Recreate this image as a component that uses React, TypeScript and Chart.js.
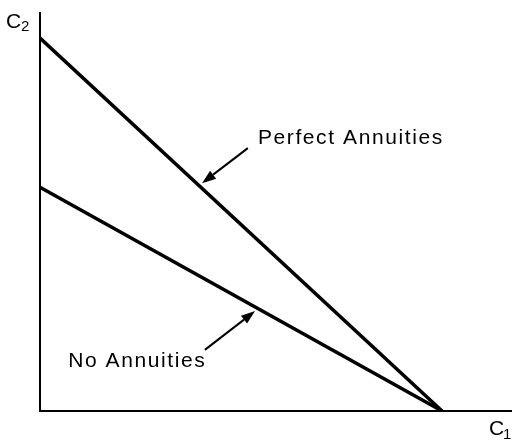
import React, { useEffect, useRef } from "react";
import { Chart, registerables } from "chart.js";

Chart.register(...registerables);

// Budget lines: consumption in period 1 (C1) vs period 2 (C2)
const c1Values = [0, 1];
const perfectAnnuitiesC2 = [1, 0];
const noAnnuitiesC2 = [0.6, 0];
const axisMaxC1 = 1.174;
const axisMaxC2 = 1.07;

const seriesNames = ["Perfect Annuities", "No Annuities"];
// label anchor (data coords) and arrow tail/head (data coords)
const labelAnchors = [
  { x: 0.542, y: 0.732 },
  { x: 0.07, y: 0.134 },
];
const arrowTails = [
  { x: 0.517, y: 0.705 },
  { x: 0.41, y: 0.164 },
];
const arrowHeads = [
  { x: 0.403, y: 0.611 },
  { x: 0.535, y: 0.268 },
];

const FONT = "'Liberation Sans', Arial, sans-serif";

const overlayPlugin = {
  id: "overlay",
  afterDatasetsDraw(chart: any) {
    const { ctx, chartArea, scales } = chart;
    const xs = scales.x;
    const ys = scales.y;
    ctx.save();
    ctx.strokeStyle = "#000";
    ctx.fillStyle = "#000";
    // axes
    ctx.lineWidth = 2;
    ctx.beginPath();
    ctx.moveTo(chartArea.left, chartArea.top);
    ctx.lineTo(chartArea.left, chartArea.bottom);
    ctx.lineTo(chartArea.right, chartArea.bottom);
    ctx.stroke();

    // axis labels
    (ctx as any).letterSpacing = "0px";
    ctx.textBaseline = "alphabetic";
    ctx.textAlign = "left";
    ctx.font = `21px ${FONT}`;
    ctx.fillText("C", 6, 28);
    ctx.font = `15px ${FONT}`;
    ctx.fillText("2", 21, 31);
    ctx.font = `21px ${FONT}`;
    ctx.fillText("C", 489, 435);
    ctx.font = `15px ${FONT}`;
    ctx.fillText("1", 503, 439);

    // series labels
    ctx.font = `21px ${FONT}`;
    (ctx as any).letterSpacing = "1.6px";
    ctx.textBaseline = "middle";
    seriesNames.forEach((name, i) => {
      const a = labelAnchors[i];
      ctx.fillText(name, xs.getPixelForValue(a.x), ys.getPixelForValue(a.y));
    });
    (ctx as any).letterSpacing = "0px";

    // arrows
    ctx.lineWidth = 2;
    arrowTails.forEach((t, i) => {
      const h = arrowHeads[i];
      const x1 = xs.getPixelForValue(t.x);
      const y1 = ys.getPixelForValue(t.y);
      const x2 = xs.getPixelForValue(h.x);
      const y2 = ys.getPixelForValue(h.y);
      const ang = Math.atan2(y2 - y1, x2 - x1);
      const len = 14;
      const half = 5;
      const bx = x2 - len * Math.cos(ang);
      const by = y2 - len * Math.sin(ang);
      ctx.beginPath();
      ctx.moveTo(x1, y1);
      ctx.lineTo(bx, by);
      ctx.stroke();
      ctx.beginPath();
      ctx.moveTo(x2, y2);
      ctx.lineTo(bx + half * Math.sin(ang), by - half * Math.cos(ang));
      ctx.lineTo(bx - half * Math.sin(ang), by + half * Math.cos(ang));
      ctx.closePath();
      ctx.fill();
    });
    ctx.restore();
  },
};

export default function App() {
  const ref = useRef<HTMLCanvasElement | null>(null);
  useEffect(() => {
    if (!ref.current) return;
    const toPts = (ys: number[]) => c1Values.map((x, i) => ({ x, y: ys[i] }));
    const chart = new Chart(ref.current, {
      type: "scatter",
      data: {
        datasets: [
          {
            label: seriesNames[0],
            data: toPts(perfectAnnuitiesC2),
            showLine: true,
            borderColor: "#000",
            borderWidth: 3.5,
            pointRadius: 0,
          },
          {
            label: seriesNames[1],
            data: toPts(noAnnuitiesC2),
            showLine: true,
            borderColor: "#000",
            borderWidth: 3.5,
            pointRadius: 0,
          },
        ],
      },
      options: {
        animation: false,
        responsive: false,
        devicePixelRatio: 1,
        layout: { padding: { left: 40, top: 12, right: 0, bottom: 30 } },
        plugins: { legend: { display: false }, tooltip: { enabled: false } },
        scales: {
          x: { type: "linear", min: 0, max: axisMaxC1, display: false },
          y: { type: "linear", min: 0, max: axisMaxC2, display: false },
        },
      },
      plugins: [overlayPlugin],
    });
    return () => chart.destroy();
  }, []);
  return (
    <div style={{ position: "fixed", left: 0, top: 0, width: 512, height: 441, background: "#fff" }}>
      <canvas ref={ref} width={512} height={441} style={{ display: "block" }} />
    </div>
  );
}
